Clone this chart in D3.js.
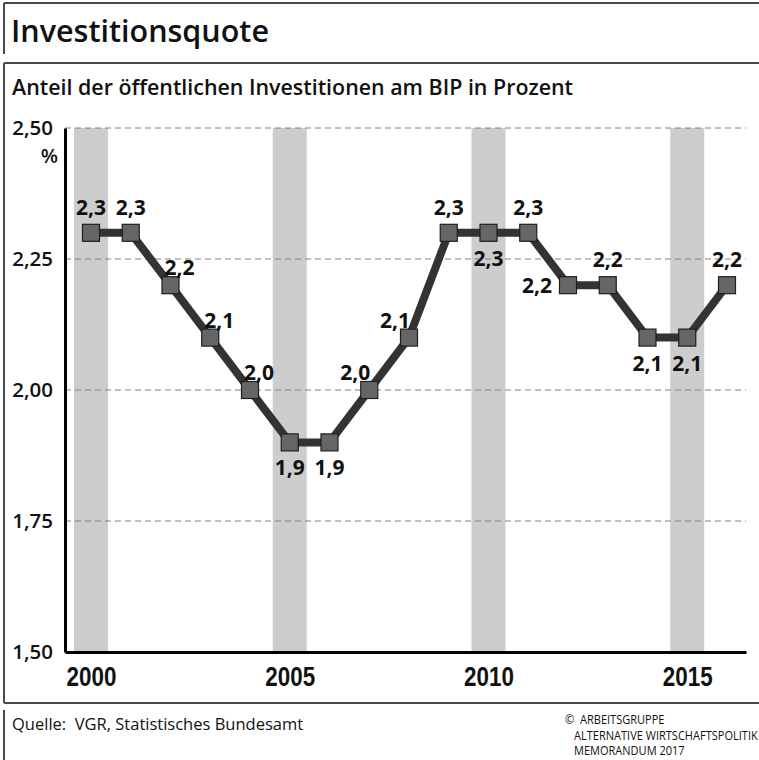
<!DOCTYPE html>
<html>
<head>
<meta charset="utf-8">
<script src="https://cdn.jsdelivr.net/npm/d3@7"></script>
<style>
  body { margin: 0; background: #fff; }
  svg { display: block; }
  text { font-family: "Open Sans", "Noto Sans", sans-serif; fill: #111; }
</style>
</head>
<body>
<svg id="chart" width="759" height="760"></svg>
<script>
// Öffentliche Investitionen in % des BIP
const years = [2000, 2001, 2002, 2003, 2004, 2005, 2006, 2007, 2008,
               2009, 2010, 2011, 2012, 2013, 2014, 2015, 2016];
const values = [2.3, 2.3, 2.2, 2.1, 2.0, 1.9, 1.9, 2.0, 2.1,
                2.3, 2.3, 2.3, 2.2, 2.2, 2.1, 2.1, 2.2];
const yTicks = [1.50, 1.75, 2.00, 2.25, 2.50];
const xTickYears = [2000, 2005, 2010, 2015];
const bandYears = [2000, 2005, 2010, 2015];
// where each value label sits relative to its marker
const labelSide = ["above", "above", "upRight", "upRight", "upRight", "below", "below",
                   "upLeft", "upLeft", "above", "below", "above", "left", "above",
                   "below", "below", "above"];

const title = "Investitionsquote";
const subtitle = "Anteil der öffentlichen Investitionen am BIP in Prozent";
const source = "Quelle:  VGR, Statistisches Bundesamt";
const credit = ["ARBEITSGRUPPE", "ALTERNATIVE WIRTSCHAFTSPOLITIK", "MEMORANDUM 2017"];

const svg = d3.select("#chart");
const W = 759;
const frame = "#4a4a4a";
const narrow = '"Liberation Sans", Arial, sans-serif';
const comma = f => v => d3.format(f)(v).replace(".", ",");

// frame lines
const frameLines = [
  [4, 3, W, 3], [4, 3, 4, 54],
  [4, 63, W, 63], [4, 63, 4, 703], [4, 703, W, 703],
  [4, 710, 4, 760]
];
svg.append("g").selectAll("line").data(frameLines).join("line")
  .attr("x1", d => d[0]).attr("y1", d => d[1])
  .attr("x2", d => d[2]).attr("y2", d => d[3])
  .attr("stroke", frame).attr("stroke-width", 2);

svg.append("text").attr("x", 11).attr("y", 42)
  .style("font-size", "30.5px").style("font-weight", 600)
  .text(title);
svg.append("text").attr("x", 12).attr("y", 95)
  .style("font-size", "21.4px").style("font-weight", 600)
  .text(subtitle);

// scales
const x = d3.scaleLinear()
  .domain([years[0] - 0.654, years[years.length - 1] + 0.478])
  .range([65, 746]);
const y = d3.scaleLinear().domain([1.5, 2.5]).range([652, 128]);
const bandW = 34;

// grey year bands
svg.append("g").selectAll("rect").data(bandYears).join("rect")
  .attr("x", d => x(d) - bandW / 2).attr("width", bandW)
  .attr("y", y(2.5)).attr("height", y(1.5) - y(2.5))
  .attr("fill", "#cdcdcd");

// dashed grid
svg.append("g").selectAll("line").data(yTicks.filter(t => t > 1.5)).join("line")
  .attr("x1", x.range()[0]).attr("x2", x.range()[1])
  .attr("y1", d => y(d)).attr("y2", d => y(d))
  .attr("stroke", "#808080").attr("stroke-width", 1)
  .attr("stroke-dasharray", "6,4");

// y axis
const yAxis = svg.append("g").attr("transform", `translate(${x.range()[0]},0)`)
  .call(d3.axisLeft(y).tickValues(yTicks).tickFormat(comma(".2f"))
    .tickSize(0).tickPadding(12));
yAxis.select(".domain").attr("stroke", "#000").attr("stroke-width", 3);
yAxis.selectAll("text").style("font-size", "20.5px").style("font-weight", 600)
  .style("font-family", '"Open Sans", sans-serif').attr("fill", "#111");

svg.append("text").attr("x", 58).attr("y", 163).attr("text-anchor", "end")
  .style("font-size", "20px").style("font-weight", 600).text("%");

// x axis with condensed bold year labels
const xAxis = svg.append("g").attr("transform", `translate(0,${y(1.5)})`)
  .call(d3.axisBottom(x).tickValues(xTickYears).tickFormat(d3.format("d"))
    .tickSize(0).tickPadding(14));
xAxis.select(".domain").attr("stroke", "#000").attr("stroke-width", 3);
xAxis.selectAll("text")
  .style("font-family", narrow)
  .style("font-size", "28px").style("font-weight", 700).attr("fill", "#111")
  .attr("transform", "scale(0.8,1)");

// series line
const pts = years.map((yr, i) => ({ yr, v: values[i], side: labelSide[i] }));
svg.append("path").datum(pts)
  .attr("d", d3.line().x(d => x(d.yr)).y(d => y(d.v)))
  .attr("fill", "none").attr("stroke", "#333").attr("stroke-width", 8)
  .attr("stroke-linejoin", "round");

const m = 17;
svg.append("g").selectAll("rect").data(pts).join("rect")
  .attr("x", d => x(d.yr) - m / 2).attr("y", d => y(d.v) - m / 2)
  .attr("width", m).attr("height", m)
  .attr("fill", "#666").attr("stroke", "#1e1e1e").attr("stroke-width", 1.2);

// value labels
const offsets = {
  above: [0, -18], below: [0, 33], upRight: [9, -10], upLeft: [-14, -10], left: [-31, 8]
};
svg.append("g").selectAll("text").data(pts).join("text")
  .attr("x", d => x(d.yr) + offsets[d.side][0])
  .attr("y", d => y(d.v) + offsets[d.side][1])
  .attr("text-anchor", "middle")
  .style("font-size", "21px").style("font-weight", 700)
  .text(d => comma(".1f")(d.v));

// footer
svg.append("text").attr("x", 12).attr("y", 730)
  .style("font-size", "16.5px").style("white-space", "pre")
  .text(source);

// condensed three-line credit block
const sx = 0.92;
const cg = svg.append("g").attr("transform", `translate(565,0) scale(${sx},1)`)
  .style("font-family", narrow).style("font-size", "12px");
cg.append("text").attr("x", 0).attr("y", 724).text("©");
cg.selectAll("text.c").data(credit).join("text").attr("class", "c")
  .attr("x", (d, i) => (i === 0 ? 15 : 9) / sx)
  .attr("y", (d, i) => 724 + i * 15.7)
  .text(d => d);
</script>
</body>
</html>
